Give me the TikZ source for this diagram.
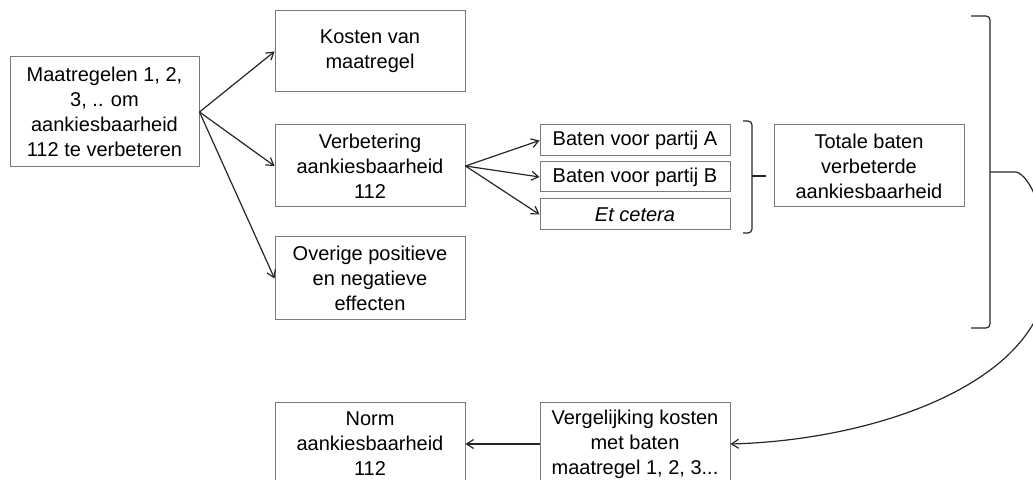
\documentclass[tikz,border=0pt]{standalone}
\usepackage{fontspec}
\setmainfont{Liberation Sans}
\usetikzlibrary{arrows.meta}
\definecolor{rand}{HTML}{7A7A7A}
\tikzset{
  blok/.style={draw=rand, line width=0.5pt, align=center, inner sep=0pt,
    minimum width=95pt, font=\fontsize{10}{12.5}\selectfont},
  pijl/.style={-{Straight Barb[length=3.5pt,width=4.5pt]}, line width=0.6pt, black!85},
  haak/.style={line width=0.6pt, black!85, rounded corners=2pt}
}

\begin{document}
\begin{tikzpicture}[x=0.5pt, y=-0.5pt]
  \useasboundingbox (0,0) rectangle (1033,480);
  % Blokken
  \node[blok, minimum width=94.5pt, minimum height=55pt] (maatr) at (104.5,112)
    {Maatregelen 1, 2,\\3, .. om\\aankiesbaarheid\\112 te verbeteren};
  \node[blok, minimum height=40.5pt] (kosten) at (370,51.5) {Kosten van\\maatregel};
  \node[blok, minimum height=41pt] (verb) at (370,166) {Verbetering\\aankiesbaarheid\\112};
  \node[blok, minimum height=41.5pt] (overig) at (370,278.5) {Overige positieve\\en negatieve\\effecten};
  \node[blok, minimum height=15.5pt] (batenA) at (635,140.5) {Baten voor partij A};
  \node[blok, minimum height=15pt] (batenB) at (635,177) {Baten voor partij B};
  \node[blok, minimum height=15.5pt] (etc) at (635,214.5) {\textit{Et cetera}};
  \node[blok, minimum height=41pt] (totaal) at (869,166) {Totale baten\\verbeterde\\aankiesbaarheid};
  \node[blok, minimum height=41pt] (norm) at (370,444) {Norm\\aankiesbaarheid\\112};
  \node[blok, minimum height=41pt] (vergel) at (635,444) {Vergelijking kosten\\met baten\\maatregel 1, 2, 3...};
  % Pijlen
  \foreach \n in {kosten, verb, overig}
    \draw[pijl] (maatr.east) -- (\n.west);
  \foreach \n in {batenA, batenB, etc}
    \draw[pijl] (verb.east) -- (\n.west);
  \draw[pijl] (vergel.west) -- (norm.east);
  % Haken
  \draw[haak] (743,121) -- (752,121) -- (752,233) -- (743,233);
  \coordinate (kleinmid) at (752,176);
  \coordinate (kleintip) at (766,176);
  \draw[haak] (kleinmid) -- (kleintip);
  \draw[haak] (971,16) -- (990,16) -- (990,328) -- (971,328);
  \coordinate (grootmid) at (990,172);
  % Boog naar vergelijking
  \draw[pijl] (grootmid) -- (1016,172) .. controls (1030,175) and (1048,215) .. (1048,270)
    .. controls (1048,380) and (880,440) .. (vergel.east);
\end{tikzpicture}
\end{document}
